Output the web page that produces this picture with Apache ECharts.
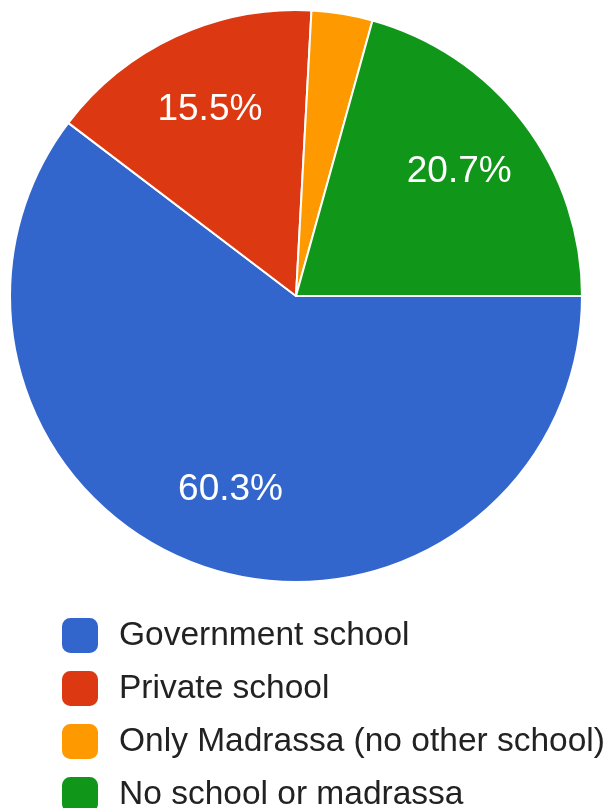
<!DOCTYPE html>
<html>
<head>
<meta charset="utf-8">
<script src="https://cdn.jsdelivr.net/npm/echarts@6/dist/echarts.min.js"></script>
<style>
html,body{margin:0;padding:0;background:#fff;}
#chart{width:608px;height:808px;}
</style>
</head>
<body>
<div id="chart"></div>
<script>
const categories = ['Government school', 'Private school', 'Only Madrassa (no other school)', 'No school or madrassa'];
const counts = [35, 9, 2, 12];
const colors = ['#3366cc', '#dc3912', '#ff9900', '#109618'];

const FONT = "'Liberation Sans', Arial, sans-serif";
const data = categories.map((c, i) => ({ name: c, value: counts[i], itemStyle: { color: colors[i] } }));
const labelData = categories.map((c, i) => ({ name: c, value: counts[i] }));

const chart = echarts.init(document.getElementById('chart'), null, { renderer: 'canvas' });
chart.setOption({
  animation: false,
  backgroundColor: '#fff',
  legend: {
    type: 'plain',
    orient: 'vertical',
    left: 60,
    top: 616,
    height: 400,
    padding: 0,
    itemWidth: 38,
    itemHeight: 37,
    itemGap: 14,
    icon: 'roundRect',
    selectedMode: false,
    data: categories.map((c, i) => ({ name: c, itemStyle: { color: colors[i] } })),
    textStyle: { fontSize: 33.5, lineHeight: 37, color: '#222', fontFamily: FONT, padding: [0, 0, 0, 15] }
  },
  series: [
    {
      type: 'pie',
      center: [296, 296],
      radius: [0, 286],
      startAngle: 0,
      clockwise: true,
      label: { show: false },
      labelLine: { show: false },
      itemStyle: { borderColor: '#fff', borderWidth: 2 },
      emphasis: { disabled: true },
      data: data
    },
    {
      type: 'pie',
      silent: true,
      center: [296, 296],
      radius: [118, 286],
      startAngle: 0,
      clockwise: true,
      itemStyle: { color: 'rgba(0,0,0,0)' },
      labelLine: { show: false },
      label: {
        show: true,
        position: 'inside',
        color: '#fff',
        fontSize: 37,
        fontFamily: FONT,
        formatter: p => p.percent < 5 ? '' : p.percent.toFixed(1) + '%'
      },
      emphasis: { disabled: true },
      data: labelData
    }
  ]
});
</script>
</body>
</html>
